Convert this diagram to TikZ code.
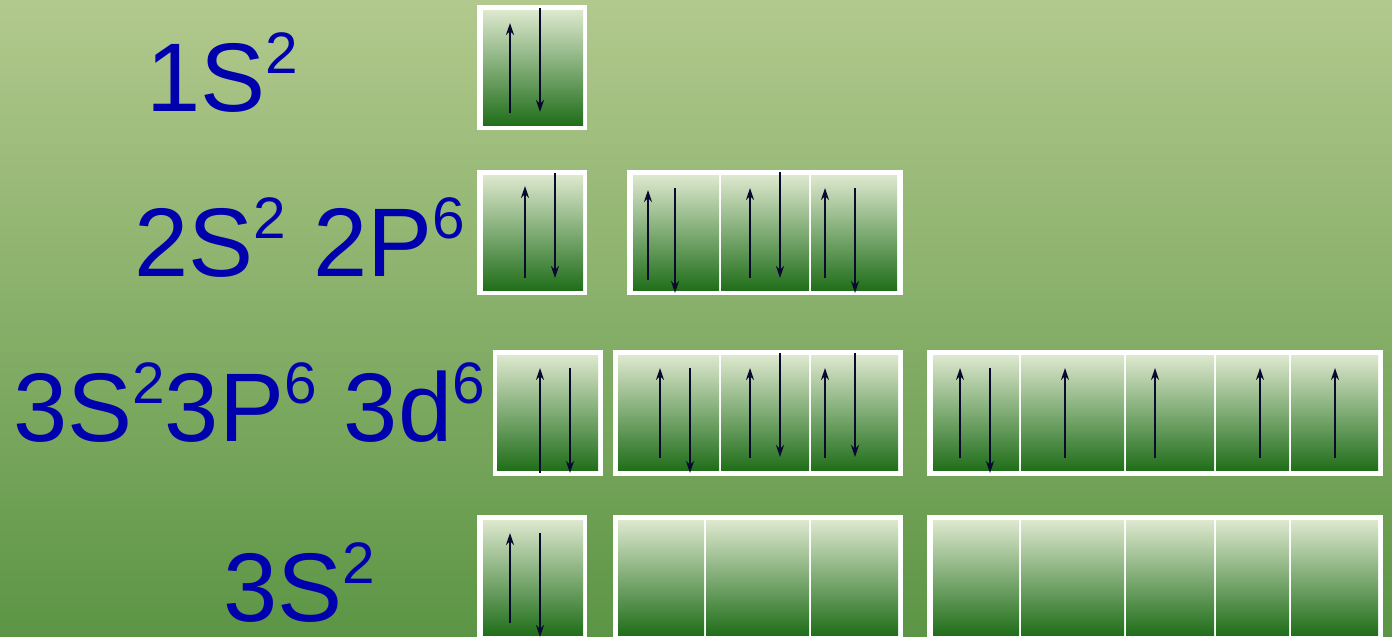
\documentclass[tikz,border=0pt]{standalone}
\usepackage{fontspec}
\setmainfont{Liberation Sans}
\usetikzlibrary{arrows.meta}
\definecolor{bgtop}{RGB}{178,201,141}
\definecolor{bgbot}{RGB}{92,149,69}
\definecolor{clight}{RGB}{221,232,206}
\definecolor{cmid}{RGB}{162,185,116}
\definecolor{cdark}{RGB}{32,110,26}
\definecolor{txtblue}{RGB}{0,0,172}
\definecolor{spincol}{RGB}{10,10,48}
\newcommand\spx[1]{\raisebox{38pt}{\fontsize{58.5}{60}\selectfont #1}}
\tikzset{
  frame/.style={fill=white, draw=none},
  cellsty/.style={rectangle, inner sep=0pt, draw=none, top color=clight, middle color=cmid, bottom color=cdark},
  spin/.style={draw=spincol, line width=2pt, -{Stealth[length=12pt,width=8pt]}},
  lbl/.style={inner sep=0pt, anchor=base west, text=txtblue, font=\fontsize{97.5}{100}\selectfont}
}
% frame: name x1 x2 y1 y2
\newcommand\frm[5]{\path[frame] (#2,#4) rectangle (#3,#5) coordinate (#1);}
% cell: name x1 x2 y1 y2
\newcommand\cel[5]{\node[cellsty, anchor=north west, minimum width={(#3-#2)*1pt}, minimum height={(#5-#4)*1pt}] (#1) at (#2,#4) {};}
% spin arrows: x, from, to
\newcommand\spn[3]{\draw[spin] (#1,#2) -- (#1,#3);}
\begin{document}
\begin{tikzpicture}[x=1pt,y=-1pt]
\useasboundingbox (0,0) rectangle (1392,637);
\clip (0,0) rectangle (1392,637);
\shade[top color=bgtop, bottom color=bgbot] (0,0) rectangle (1392,637);

% labels
\node[lbl] (l1) at (146,111) {1S\spx{2}};
\node[lbl] (l2) at (134,276) {2S\spx{2} 2P\spx{6}};
\node[lbl] (l3) at (13,441) {3S\spx{2}3P\spx{6} 3d\spx{6}};
\node[lbl] (l4) at (223,621) {3S\spx{2}};

% row 1
\frm{fa}{477}{587}{5}{130}
\cel{a1}{483}{583}{10}{125}
\spn{510}{113}{23}\spn{540}{8}{112}

% row 2
\frm{fb}{477}{587}{170}{295}
\cel{b1}{483}{583}{175}{290}
\spn{525}{278}{186}\spn{555}{173}{278}
\frm{fc}{627}{903}{170}{295}
\cel{c1}{633}{719}{175}{290}
\cel{c2}{721}{809}{175}{290}
\cel{c3}{811}{897}{175}{290}
\spn{648}{280}{190}\spn{675}{188}{293}
\spn{750}{278}{188}\spn{780}{172}{278}
\spn{825}{278}{188}\spn{855}{188}{293}

% row 3
\frm{fd}{493}{603}{350}{476}
\cel{d1}{497}{598}{355}{470}
\spn{540}{473}{368}\spn{570}{368}{473}
\frm{fe}{613}{903}{350}{476}
\cel{e1}{618}{719}{355}{470}
\cel{e2}{721}{809}{355}{470}
\cel{e3}{811}{898}{355}{470}
\spn{660}{458}{368}\spn{690}{368}{473}
\spn{750}{458}{368}\spn{780}{353}{457}
\spn{825}{458}{368}\spn{855}{353}{457}
\frm{ff}{927}{1383}{350}{476}
\cel{f1}{933}{1019}{355}{470}
\cel{f2}{1021}{1124}{355}{470}
\cel{f3}{1126}{1214}{355}{470}
\cel{f4}{1216}{1289}{355}{470}
\cel{f5}{1291}{1378}{355}{470}
\spn{960}{458}{368}\spn{990}{368}{473}
\spn{1065}{458}{368}
\spn{1155}{458}{368}
\spn{1260}{458}{368}
\spn{1335}{458}{368}

% row 4
\frm{fg}{477}{587}{515}{645}
\cel{g1}{483}{583}{520}{635}
\spn{510}{623}{533}\spn{540}{533}{637}
\frm{fh}{613}{903}{515}{645}
\cel{h1}{618}{704}{520}{635}
\cel{h2}{706}{809}{520}{635}
\cel{h3}{811}{898}{520}{635}
\frm{fi}{927}{1383}{515}{645}
\cel{i1}{933}{1019}{520}{635}
\cel{i2}{1021}{1124}{520}{635}
\cel{i3}{1126}{1214}{520}{635}
\cel{i4}{1216}{1289}{520}{635}
\cel{i5}{1291}{1378}{520}{635}
\end{tikzpicture}
\end{document}
